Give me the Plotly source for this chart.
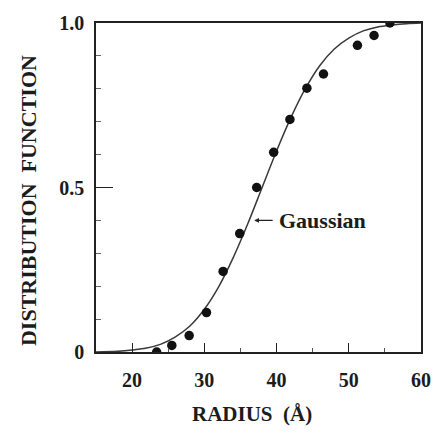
import plotly.graph_objects as go

# Measured data points (radius in Å, distribution function)
radius_pts = [23.4, 25.5, 27.9, 30.3, 32.6, 34.9, 37.25, 39.6, 41.85, 44.2, 46.5, 51.2, 53.5, 55.7]
dist_pts = [0.0, 0.02, 0.05, 0.12, 0.245, 0.36, 0.50, 0.607, 0.707, 0.802, 0.845, 0.932, 0.962, 1.0]

# Gaussian curve
curve_x = [15, 18, 20, 22, 24, 26, 28, 30, 32, 34, 36, 38, 40, 42, 44, 46, 48, 50, 52, 54, 56, 58, 60]
curve_y = [0.0, 0.002, 0.006, 0.012, 0.024, 0.046, 0.079, 0.13, 0.199, 0.287, 0.389, 0.5,
           0.611, 0.713, 0.801, 0.871, 0.921, 0.954, 0.976, 0.988, 0.994, 0.998, 1.0]

x_ticks = [20, 30, 40, 50, 60]
y_ticks = [0, 0.5, 1.0]
y_tick_labels = ["0", "0.5", "1.0"]

FONT = "Liberation Serif, Times New Roman, serif"
INK = "#1c1c1c"

fig = go.Figure()
fig.add_trace(go.Scatter(x=curve_x, y=curve_y, mode="lines", line_shape="spline",
                         line=dict(color="#3a3a3a", width=1.5), hoverinfo="skip"))
fig.add_trace(go.Scatter(x=radius_pts, y=dist_pts, mode="markers",
                         marker=dict(color="#111111", size=9.5)))

fig.add_annotation(x=36.9, y=0.40, ax=20, ay=0, axref="pixel", ayref="pixel",
                   text="", showarrow=True, arrowhead=2, arrowsize=0.8, arrowwidth=1.2,
                   arrowcolor="#222")
fig.add_annotation(x=40.1, y=0.40, text="Gaussian", showarrow=False, xanchor="left",
                   font=dict(family=FONT, size=22, color=INK, weight="bold"))

# Axis titles
fig.add_annotation(xref="paper", yref="paper", x=-0.207, y=0.461, text="DISTRIBUTION  FUNCTION",
                   textangle=-90, showarrow=False, xanchor="center", yanchor="middle",
                   font=dict(family=FONT, size=22, color=INK, weight="bold"))
fig.add_annotation(xref="paper", yref="paper", x=0.48, y=-0.189, text="RADIUS  (Å)",
                   showarrow=False, xanchor="center", yanchor="middle",
                   font=dict(family=FONT, size=21, color=INK, weight="bold"))

fig.update_layout(
    width=443, height=433,
    margin=dict(l=96, r=14, t=19, b=81),
    paper_bgcolor="white", plot_bgcolor="white",
    showlegend=False,
    font=dict(family=FONT, color=INK, weight="bold"),
)
fig.update_xaxes(
    range=[15, 60], tickvals=x_ticks, ticks="inside", ticklen=9, tickwidth=1.2,
    tickcolor="#222", showgrid=False, zeroline=False,
    showline=True, linecolor="#222", linewidth=1.5, mirror=True,
    tickfont=dict(family=FONT, size=20, color=INK, weight="bold"),
    ticklabelstandoff=9,
    minor=dict(tickvals=[25, 35, 45, 55], ticks="inside", ticklen=4, tickcolor="#555", tickwidth=1),
)
fig.update_yaxes(
    range=[0, 1.0], tickvals=y_ticks, ticktext=y_tick_labels, ticks="inside", ticklen=17,
    tickwidth=1.2, tickcolor="#222", showgrid=False, zeroline=False,
    showline=True, linecolor="#222", linewidth=1.5, mirror=True,
    tickfont=dict(family=FONT, size=20, color=INK, weight="bold"),
    ticklabelstandoff=6,
    minor=dict(dtick=0.1, ticks="inside", ticklen=5, tickcolor="#666", tickwidth=1),
)

fig.write_html("out.html")
